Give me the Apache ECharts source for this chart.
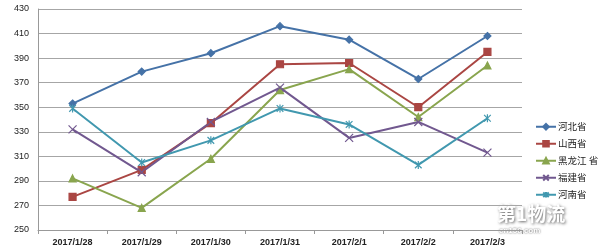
<!DOCTYPE html>
<html>
<head>
<meta charset="utf-8">
<script src="https://cdn.jsdelivr.net/npm/echarts@6/dist/echarts.min.js"></script>
<style>
  html, body { margin: 0; padding: 0; background: #fff; }
  #chart { width: 600px; height: 252px; }
</style>
</head>
<body>
<div id="chart"></div>
<script>
// 日期
var days = ['2017/1/28', '2017/1/29', '2017/1/30', '2017/1/31', '2017/2/1', '2017/2/2', '2017/2/3'];
// 各省数据
var hebei = [353, 379, 394, 416, 405, 373, 408];
var shanxi = [277, 299, 337, 385, 386, 350, 395];
var heilongjiang = [292, 268, 308, 364, 381, 342, 384];
var fujian = [332, 297, 338, 366, 325, 338, 313];
var henan = [349, 305, 323, 349, 336, 303, 341];
// y轴刻度
var yTicks = [250, 270, 290, 310, 330, 350, 370, 390, 410, 430];

var crossPath = 'path://M0,0L10,10M10,0L0,10';
var starPath = 'path://M0,0L10,10M10,0L0,10M5,-1L5,11';

function make_series(name, data, color, symbol, size){
  return {
    name: name,
    type: 'line',
    data: data,
    color: color,
    symbol: symbol,
    symbolSize: size,
    symbolKeepAspect: true,
    lineStyle: { width: 2, color: color },
    itemStyle: { color: color, borderColor: color, borderWidth: 1.2 },
    emphasis: { disabled: true }
  }
}

var chart = echarts.init(document.getElementById('chart'));
var option = {
  animation: false,
  textStyle: { fontFamily: 'Liberation Sans, Noto Sans CJK SC' },
  grid: { left: 38, right: 78, top: 9, bottom: 22 },
  legend: {
    orient: 'vertical',
    left: 535,
    top: 122,
    padding: 0,
    itemWidth: 20,
    itemHeight: 7,
    itemGap: 7.5,
    textStyle: { fontSize: 9.5, color: '#222', fontFamily: 'Noto Sans CJK SC', padding: [0, 0, 0, -3] },
    data: ['河北省', '山西省', '黑龙江 省', '福建省', '河南省']
  },
  xAxis: {
    type: 'category',
    data: days,
    boundaryGap: true,
    axisLine: { lineStyle: { color: '#999', width: 1 } },
    axisTick: { show: true, length: 4, lineStyle: { color: '#999' } },
    axisLabel: { fontSize: 9, color: '#222', fontWeight: 'bold', margin: 8 }
  },
  yAxis: {
    type: 'value',
    min: yTicks[0],
    max: yTicks[yTicks.length - 1],
    interval: 20,
    axisLine: { show: true, lineStyle: { color: '#999', width: 1 } },
    axisTick: { show: false },
    axisLabel: { fontSize: 9, color: '#222', margin: 9 },
    splitLine: { lineStyle: { color: '#a6a6a6', width: 1 } }
  },
  series: [
    make_series('河北省', hebei, '#4572A7', 'diamond', 7),
    make_series('山西省', shanxi, '#AA4643', 'rect', 7),
    make_series('黑龙江 省', heilongjiang, '#89A54E', 'triangle', 7),
    make_series('福建省', fujian, '#71588F', crossPath, 8),
    make_series('河南省', henan, '#4198AF', starPath, 8)
  ],
  graphic: [
    {
      type: 'text',
      left: 497,
      top: 204,
      style: {
        text: '第1物流',
        fontSize: 19,
        fontWeight: 'bold',
        fill: '#fff',
        fontFamily: 'Noto Sans CJK SC',
        textShadowColor: 'rgba(0,0,0,0.6)',
        textShadowBlur: 3,
        textShadowOffsetX: 1,
        textShadowOffsetY: 1
      }
    },
    {
      type: 'text',
      left: 499,
      top: 227,
      style: {
        text: 'cn156.com',
        fontSize: 8,
        fontWeight: 'bold',
        fill: '#fff',
        textShadowColor: 'rgba(0,0,0,0.7)',
        textShadowBlur: 2
      }
    }
  ]
};
chart.setOption(option);
</script>
</body>
</html>
